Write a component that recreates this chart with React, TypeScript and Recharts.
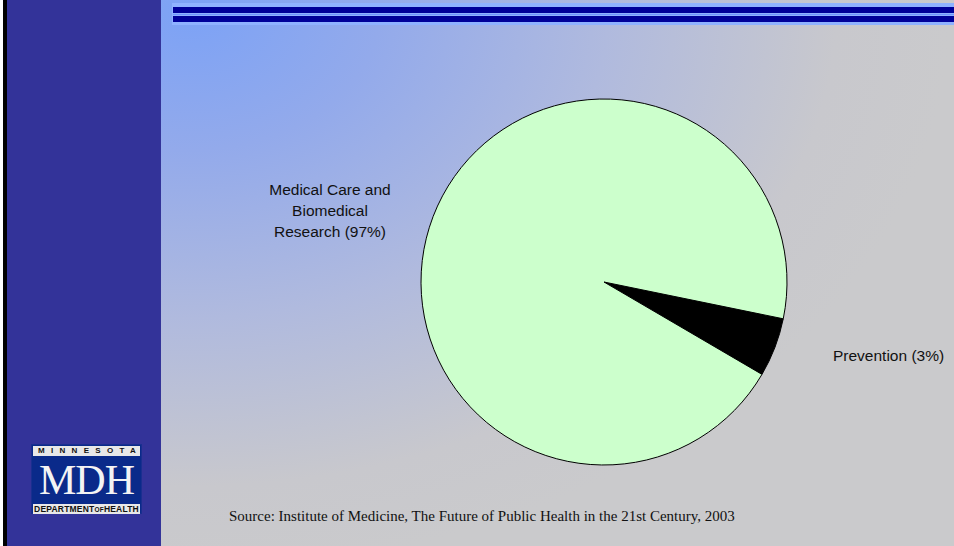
import React from 'react';
import { PieChart, Pie, Cell } from 'recharts';

// slice sizes as drawn (the slide's labels say 97% / 3%, the wedge is drawn wider)
const sliceNames = ['Prevention', 'Medical Care and Biomedical Research'];
const sliceValues = [5.2, 94.8];
const sliceColors = ['#000000', '#ccffcc'];
const sliceLabels = [['Prevention (3%)'], ['Medical Care and', 'Biomedical', 'Research (97%)']];
const sourceNote = 'Source: Institute of Medicine, The Future of Public Health in the 21st Century, 2003';

const data = sliceNames.map((name, i) => ({ name, value: sliceValues[i] }));

const labelFont = "'Liberation Sans', Arial, sans-serif";

const renderLabel = (props: any) => {
  const { cx, cy, index } = props;
  const lines = sliceLabels[index];
  if (index === 0) {
    return (
      <text x={cx + 229} y={cy + 79} fill="#111" fontSize={15.5} fontFamily={labelFont}>
        {lines[0]}
      </text>
    );
  }
  return (
    <text x={cx - 274} y={cy - 87} fill="#111" fontSize={15.5} textAnchor="middle" fontFamily={labelFont}>
      {lines.map((l, i) => (
        <tspan key={i} x={cx - 274} dy={i === 0 ? 0 : 21}>
          {l}
        </tspan>
      ))}
    </text>
  );
};

function Logo() {
  return (
    <div
      style={{
        position: 'absolute',
        left: 31,
        top: 444,
        width: 111,
        height: 70,
        background: '#0a2a8a',
        boxSizing: 'border-box',
        border: '1px solid #1a2f8f',
      }}
    >
      <div
        style={{
          position: 'absolute', left: 1, top: 1, width: 107, height: 10, background: '#e8e8e8',
          font: "bold 8px 'Liberation Sans', Arial, sans-serif", letterSpacing: 6.3, textAlign: 'center',
          lineHeight: '10px', color: '#111', paddingLeft: 5, boxSizing: 'border-box',
        }}
      >
        MINNESOTA
      </div>
      <div
        style={{
          position: 'absolute', left: 0, top: 12, width: 109, height: 47, textAlign: 'center', color: '#f4f4f4',
          font: "42px 'Liberation Serif', 'Times New Roman', serif", lineHeight: '47px', letterSpacing: -1,
        }}
      >
        MDH
      </div>
      <div
        style={{
          position: 'absolute', left: 1, top: 59, width: 107, height: 10, background: '#e8e8e8',
          font: "bold 8.5px 'Liberation Sans Narrow', 'Liberation Sans', Arial, sans-serif", textAlign: 'center',
          lineHeight: '10px', color: '#111', whiteSpace: 'nowrap', letterSpacing: 0.2,
        }}
      >
        DEPARTMENT<span style={{ fontSize: 6.5 }}>OF</span>HEALTH
      </div>
    </div>
  );
}

export default function App() {
  return (
    <div
      style={{
        position: 'absolute',
        left: 0,
        top: 0,
        width: 954,
        height: 546,
        overflow: 'hidden',
        background:
          'radial-gradient(ellipse 760px 560px at 190px 10px, #7ca2f6 0%, #93aaeb 25%, #b0bade 55%, #c8c8cd 85%, #cacacc 100%)',
      }}
    >
      {/* left band */}
      <div style={{ position: 'absolute', left: 0, top: 0, width: 3, height: 546, background: '#fff' }} />
      <div style={{ position: 'absolute', left: 3, top: 0, width: 4, height: 546, background: '#000' }} />
      <div style={{ position: 'absolute', left: 7, top: 0, width: 154, height: 546, background: '#333399' }} />
      {/* top rules */}
      <div style={{ position: 'absolute', left: 172, top: 3, width: 782, height: 22, background: '#8fb2ff' }} />
      <div style={{ position: 'absolute', left: 173, top: 7, width: 781, height: 6, background: '#000099' }} />
      <div style={{ position: 'absolute', left: 173, top: 14, width: 781, height: 1, background: '#6f95ff' }} />
      <div style={{ position: 'absolute', left: 173, top: 16, width: 781, height: 6, background: '#000099' }} />
      <Logo />
      <div style={{ position: 'absolute', left: 0, top: 0 }}>
        <PieChart width={954} height={546} margin={{ top: 0, right: 0, bottom: 0, left: 0 }}>
          <Pie
            data={data}
            dataKey="value"
            nameKey="name"
            cx={604}
            cy={282}
            outerRadius={183}
            startAngle={-11.6}
            endAngle={-371.6}
            stroke="#000"
            strokeWidth={1}
            label={renderLabel}
            labelLine={false}
            isAnimationActive={false}
          >
            {data.map((d, i) => (
              <Cell key={d.name} fill={sliceColors[i]} />
            ))}
          </Pie>
        </PieChart>
      </div>
      <div
        style={{
          position: 'absolute', left: 229, top: 508, color: '#111', whiteSpace: 'nowrap',
          font: "15px 'Liberation Serif', 'Times New Roman', serif",
        }}
      >
        {sourceNote}
      </div>
    </div>
  );
}
